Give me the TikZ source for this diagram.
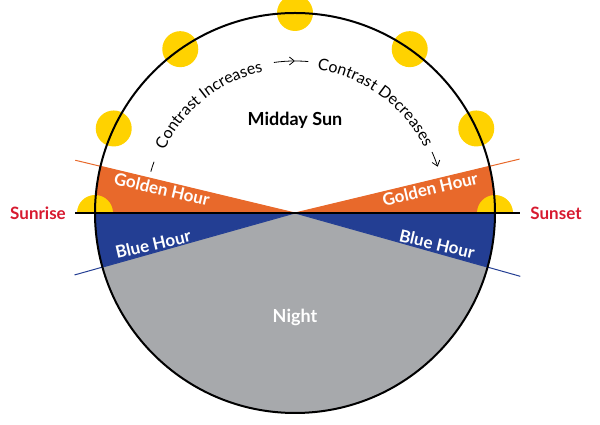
\documentclass[tikz,border=0pt]{standalone}
\usepackage{fontspec}
\setmainfont{Lato}
\usetikzlibrary{decorations.text,arrows.meta,calc}
\definecolor{gold}{HTML}{E8692B}
\definecolor{blueh}{HTML}{233E93}
\definecolor{night}{HTML}{A7A9AC}
\definecolor{sun}{HTML}{FFD200}
\definecolor{redl}{HTML}{D7192F}
\tikzset{lbl/.style={text=white,font=\bfseries\fontsize{17}{17}\selectfont},
 side/.style={text=redl,font=\bfseries\fontsize{17}{17}\selectfont},
 arctext/.style={decorate,decoration={text along path,text align=center,text={#1},
   text format delimiters={|}{|}}},
 tiny/.style={line width=0.8pt}}
\begin{document}
\begin{tikzpicture}[x=1pt,y=1pt]
\useasboundingbox (0,0) rectangle (600,425);
\coordinate (C) at (295,212);
% suns
\foreach \a in {90,125,155,55,25} \fill[sun] ($(C)+(\a:200)$) circle (18);
% wedges
\fill[gold] (C) -- ++(166.5:200) arc (166.5:180:200) -- cycle;
\fill[gold] (C) -- ++(13.5:200) arc (13.5:0:200) -- cycle;
\fill[blueh] (C) -- ++(180:200) arc (180:195.7:200) -- cycle;
\fill[blueh] (C) -- ++(0:200) arc (0:-15.7:200) -- cycle;
\fill[night] (C) -- ++(-15.7:200) arc (-15.7:-164.3:200) -- cycle;
\begin{scope}
\clip (0,212) rectangle (600,425);
\fill[sun] ($(C)+(180:200)$) circle (18);
\fill[sun] ($(C)+(0:200)$) circle (18);
\end{scope}
\draw[gold,line width=1pt] (C) -- ++(166.5:226) coordinate (ol);
\draw[gold,line width=1pt] (C) -- ++(13.5:231) coordinate (or);
\draw[blueh,line width=1pt] (C) -- ++(195.7:229) coordinate (bl);
\draw[blueh,line width=1pt] (C) -- ++(-15.7:234) coordinate (br);
\draw[line width=2pt] (C) circle (200);
\draw[line width=2pt] (75,212) -- (520,212);
% labels
\node[lbl,rotate=-13] (g1) at (162,236) {Golden Hour};
\node[lbl,rotate=13] (g2) at (430,236) {Golden Hour};
\node[lbl,rotate=13] (b1) at (153,181) {Blue Hour};
\node[lbl,rotate=-13] (b2) at (437,181) {Blue Hour};
\node[lbl,font=\bfseries\fontsize{18}{18}\selectfont] (n) at (295,108) {Night};
\node[font=\bfseries\fontsize{18}{18}\selectfont] (m) at (295,305) {Midday Sun};
\node[side] (sr) at (38,212) {Sunrise};
\node[side] (ss) at (556,212) {Sunset};
% arc text
\path[arctext={|\fontsize{16}{16}\selectfont|Contrast Increases}] ($(C)+(158:145)$) arc (158:99:145);
\path[arctext={|\fontsize{16}{16}\selectfont|Contrast Decreases}] ($(C)+(83:145)$) arc (83:25:145);
\draw[tiny] ($(C)+(164:150)$) arc (164:160:150);
\draw[tiny,-{Straight Barb[length=5pt,width=8pt]}] ($(C)+(98:152)$) arc (98:90:152);
\draw[tiny] ($(C)+(90:152)$) arc (90:85:152);
\draw[tiny,-{Straight Barb[length=5pt,width=8pt]}] ($(C)+(24:150)$) arc (24:18:150);
\end{tikzpicture}
\end{document}
